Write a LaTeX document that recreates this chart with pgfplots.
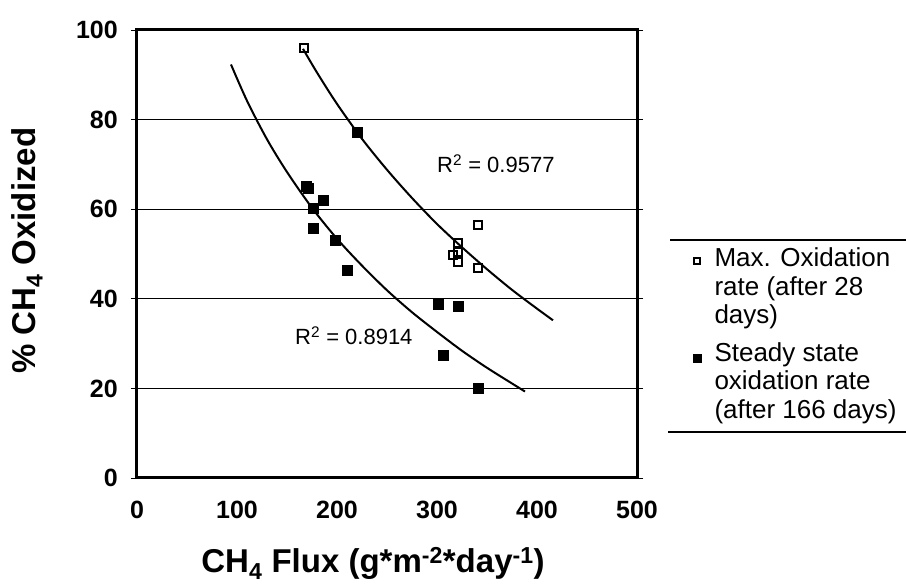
\documentclass[border=0pt]{standalone}
\usepackage{fontspec}
\setmainfont{Liberation Sans}
\usepackage{pgfplots}
\pgfplotsset{compat=1.18}
\pgfplotsset{
  legimgA/.style={legend image code/.code={\draw[mark repeat=1,mark phase=1,##1,mark size=3.3pt] plot coordinates {(0pt,-13pt)};}},
  legimgB/.style={legend image code/.code={\draw[mark repeat=1,mark phase=1,##1,mark size=4pt] plot coordinates {(0pt,-16pt)};}},
}
\begin{document}
\begin{tikzpicture}
\useasboundingbox (-137pt,-107pt) rectangle (769pt,478pt);
\begin{axis}[
  scale only axis, width=500pt, height=448pt,
  xmin=0, xmax=500, ymin=0, ymax=100,
  xtick={0,100,...,500}, ytick={0,20,...,100},
  ymajorgrids, grid style={black, line width=0.9pt},
  axis line style={line width=3pt},
  tick align=outside, major tick length=6pt,
  ytick style={black, line width=0.9pt},
  xtick style={draw=none},
  /pgf/number format/assume math mode=true,
  ticklabel style={font=\fontsize{25}{30}\selectfont\bfseries, inner sep=0pt},
  xticklabel style={anchor=north, yshift=-17pt},
  yticklabel style={anchor=east, xshift=-13pt},
  xlabel={CH\textsubscript{4} Flux (g*m\textsuperscript{-2}*day\textsuperscript{-1})},
  xlabel style={at={(axis description cs:0.472,-0.211)}, anchor=base, font=\fontsize{33}{36}\selectfont\bfseries, inner sep=0pt},
  ylabel={\% CH\textsubscript{4} Oxidized},
  ylabel style={at={(axis description cs:-0.22,0.507)}, anchor=center, font=\fontsize{33}{36}\selectfont\bfseries, inner sep=0pt},
  legend style={at={(axis description cs:1.112,0.5134)}, anchor=north west, draw=none, fill=none, inner sep=0pt, outer sep=0pt,
    font=\fontsize{26}{28.5}\selectfont, cells={anchor=north west, align=left}, nodes={inner sep=0pt}, row sep=17pt, column sep=13.5pt},
]
\addplot[forget plot, smooth, black, line width=2pt] coordinates {
(166,95.8) (180,90.5) (200,83.5) (225,75.7) (250,68.8) (275,62.5) (300,56.7) (325,51.5) (350,46.6) (375,42.0) (400,37.8) (416,35.2)};
\addplot[forget plot, smooth, black, line width=2pt] coordinates {
(94,92.3) (110,84.2) (130,75.6) (150,68.3) (175,60.3) (200,53.4) (225,47.4) (250,41.9) (275,37.0) (300,32.6) (325,28.4) (350,24.6) (375,21.1) (388,19.3)};
\addplot[forget plot, only marks, black, mark=square*, mark size=5pt] coordinates {(220,77.2)};
\addplot[only marks, black, mark=square, mark size=4pt, mark options={line width=1.8pt, fill=white}, legimgA] coordinates {
(167,96) (321,52.5) (316,49.8) (321,50.4) (321,48.2) (341,46.9) (341,56.5)};
\addlegendentry{Max. Oxidation\\rate (after 28\\days)}
\addplot[only marks, black, mark=square*, mark size=5pt, legimgB] coordinates {
(169,65.2) (171,64.6) (186,62) (176,60.3) (176,55.8) (198,53.1) (210,46.4) (301,38.8) (321,38.4) (306,27.5) (341,20)};
\addlegendentry{Steady state\\oxidation rate\\(after 166 days)}
\node[anchor=base west, font=\fontsize{22}{26}\selectfont, inner sep=0pt] at (axis cs:300,68.1) {R\textsuperscript{2} = 0.9577};
\node[anchor=base west, font=\fontsize{22}{26}\selectfont, inner sep=0pt] at (axis cs:158,29.7) {R\textsuperscript{2} = 0.8914};
\end{axis}
\draw[line width=1.5pt] (533pt,238pt) -- (769pt,238pt);
\draw[line width=1.5pt] (531pt,46pt) -- (769pt,46pt);
\end{tikzpicture}
\end{document}
